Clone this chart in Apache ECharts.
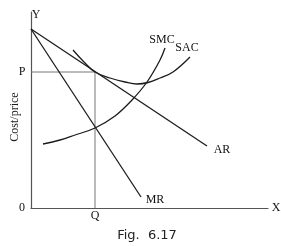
<!DOCTYPE html>
<html><head><meta charset="utf-8">
<script src="https://cdn.jsdelivr.net/npm/echarts@6/dist/echarts.min.js"></script>
<style>html,body{margin:0;padding:0;background:#fff}#c{width:281px;height:246px}</style>
</head><body><div id="c"></div>
<script>
// Data (arbitrary units; origin at 0,0)
const arLine = [[0,179],[176,62]];
const mrLine = [[0,179],[110,11]];
const smcCurve = [[12,64],[29,68],[44,73],[64,80],[84,92],[101,108],[116,126],[129,148],[134,160]];
const sacCurve = [[42,158],[53,146],[64,136],[79,130],[94,126],[106,124],[117,125.5],[129,130],[142,136],[159,151]];
const pointP = 136;   // price level
const pointQ = 64;    // quantity
const xMax = 237, yMax = 196;
const curveLabels = [
  {t:'SMC', at:[131,168]},
  {t:'SAC', at:[156,160]},
  {t:'AR',  at:[191,58]},
  {t:'MR',  at:[124,8]}
];

const chart = echarts.init(document.getElementById('c'), null, {renderer:'canvas'});
const lineStyle = {color:'#1c1c1c', width:1.3};
const mk = (name, data, smooth) => ({
  name, type:'line', data, smooth: smooth ? 0.4 : false, symbol:'none',
  lineStyle, silent:true, animation:false
});
chart.setOption({
  animation:false,
  grid:{left:31, right:13, top:12, bottom:38},
  xAxis:{type:'value', min:0, max:xMax, splitLine:{show:false}, axisTick:{show:false},
    axisLabel:{show:false}, axisLine:{lineStyle:{color:'#555', width:1.2}}},
  yAxis:{type:'value', min:0, max:yMax, splitLine:{show:false}, axisTick:{show:false},
    axisLabel:{show:false}, axisLine:{show:true, lineStyle:{color:'#555', width:1.2}}},
  series:[
    {type:'line', data:[[0,pointP],[pointQ,pointP],[pointQ,0]], symbol:'none',
     lineStyle:{color:'#777', width:1}, silent:true},
    mk('AR', arLine),
    mk('MR', mrLine),
    mk('SMC', smcCurve, true),
    mk('SAC', sacCurve, true)
  ]
});

const px = p => chart.convertToPixel({gridIndex:0}, p);
const serif = "'Liberation Serif', 'DejaVu Serif', serif";
const txt = (s, pos, extra) => Object.assign({
  type:'text', x:pos[0], y:pos[1],
  style:{text:s, font:'12px ' + serif, fill:'#111', align:'center', verticalAlign:'middle'}
}, extra || {});
const g = [];
curveLabels.forEach(l => g.push(txt(l.t, px(l.at))));
const pP = px([0,pointP]), pQ = px([pointQ,0]), o = px([0,0]), yTop = px([0,yMax]), xEnd = px([xMax,0]);
g.push(txt('P', [pP[0]-9, pP[1]]));
g.push(txt('Q', [pQ[0], pQ[1]+8]));
g.push(txt('0', [o[0]-9, o[1]]));
g.push(txt('Y', [yTop[0]+5, yTop[1]+3]));
g.push(txt('X', [xEnd[0]+8, xEnd[1]]));
g.push({type:'text', x:15, y:117, rotation:Math.PI/2,
  style:{text:'Cost/price', font:'12px ' + serif, fill:'#1c1c1c', align:'center', verticalAlign:'middle'}});
g.push({type:'text', x:147, y:236,
  style:{text:'Fig.  6.17', font:'13px "DejaVu Sans", sans-serif', fill:'#222', align:'center', verticalAlign:'middle'}});
chart.setOption({graphic:g});
</script></body></html>
